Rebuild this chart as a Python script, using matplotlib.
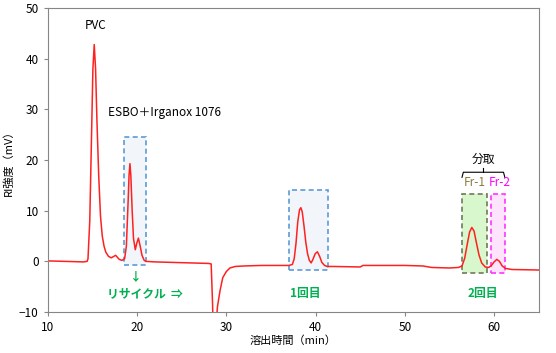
import numpy as np
import matplotlib.pyplot as plt
from matplotlib.patches import Rectangle

plt.rcParams['font.family'] = ['Noto Sans CJK JP', 'DejaVu Sans']

# chromatogram: elution time (min) vs RI signal (mV)
time = [10, 12, 14, 14.4, 14.5, 14.7, 14.9, 15.05, 15.2, 15.35, 15.5, 15.7, 15.9,
        16.1, 16.3, 16.5, 16.8, 17.1, 17.4, 17.6, 17.8, 18.0, 18.3, 18.6, 18.8,
        19.0, 19.1, 19.2, 19.3, 19.45, 19.6, 19.8, 19.95, 20.15, 20.35, 20.55,
        20.8, 21.0, 22, 24, 26, 28, 28.3, 28.45, 28.55, 28.8, 29.0, 29.3, 29.6,
        30.0, 30.4, 31, 32, 34, 36, 37, 37.4, 37.6, 37.8, 38.0, 38.2, 38.35,
        38.5, 38.7, 38.9, 39.1, 39.3, 39.5, 39.7, 39.95, 40.2, 40.45, 40.7,
        41.0, 41.3, 42, 45, 45.3, 50, 52, 53, 55, 56, 56.4, 56.7, 57.0, 57.25,
        57.5, 57.75, 58.0, 58.3, 58.6, 59.0, 59.4, 59.7, 60.0, 60.3, 60.6,
        60.9, 61.3, 62, 65]
signal = [0.1, 0.0, -0.1, 0.0, 0.5, 8, 25, 38, 42.8, 38, 28, 17, 9,
          5, 3, 1.8, 1.0, 0.7, 1.0, 1.2, 0.8, 0.4, 0.2, 0.5, 3,
          12, 17, 19.3, 17, 10, 4.5, 2.3, 3.5, 4.6, 3, 1.2,
          0.2, 0.0, -0.1, -0.2, -0.3, -0.4, -0.5, -8, -15, -14, -9, -5.7, -3.2,
          -2.0, -1.3, -1.0, -0.9, -0.8, -0.8, -0.8, -0.6, 0.5, 3.5, 7.8, 10.2, 10.6,
          9.8, 7.0, 3.8, 1.5, 0.2, -0.3, 0.4, 1.5, 1.9, 1.0, -0.2,
          -0.8, -1.0, -1.0, -1.1, -0.8, -0.8, -0.9, -1.2, -1.3, -1.2, -0.9, 0.6, 3.5, 5.8,
          6.7, 6.0, 3.8, 1.3, -0.3, -1.1, -1.2, -0.8, -0.1, 0.4, 0.0,
          -0.9, -1.4, -1.6, -1.7]

# highlighted windows: (x0, x1, y0, y1)
recycle_box = (18.5, 21.0, -0.8, 24.5)
run1_box = (37.0, 41.35, -1.6, 14.0)
fr1_box = (56.4, 59.2, -2.2, 13.4)
fr2_box = (59.7, 61.2, -2.2, 13.4)

fig, ax = plt.subplots(figsize=(5.56, 3.53), dpi=100)
fig.subplots_adjust(left=0.086, right=0.969, top=0.977, bottom=0.116)

box_styles = [
    (recycle_box, '#f2f6fa', '#5b9bd5'),
    (run1_box, '#f2f6fa', '#5b9bd5'),
    (fr1_box, '#d9f7cc', '#6f7a5a'),
    (fr2_box, '#fde3fb', '#ff33ff'),
]
for (x0, x1, y0, y1), fc, ec in box_styles:
    ax.add_patch(Rectangle((x0, y0), x1 - x0, y1 - y0, facecolor=fc,
                           edgecolor=ec, linestyle=(0, (3, 2)), linewidth=1.2,
                           zorder=1))

ax.plot(time, signal, color='#ff2020', linewidth=1.1, zorder=2)

ax.set_xlim(10, 65)
ax.set_ylim(-10, 50)
ax.set_xticks([10, 20, 30, 40, 50, 60])
ax.set_yticks([-10, 0, 10, 20, 30, 40, 50])
ax.set_yticklabels(['\u221210', '0', '10', '20', '30', '40', '50'])
for s in ax.spines.values():
    s.set_color('#868686')
ax.tick_params(labelsize=8.5, color='#868686', length=3)
ax.set_xlabel('溶出時間（min）', fontsize=8, labelpad=1)
ax.set_ylabel('RI強度（mV）', fontsize=8, labelpad=4)

green = '#00b050'
ax.text(15.3, 45.3, 'PVC', fontsize=8.5, ha='center', va='bottom')
ax.text(16.7, 28.2, 'ESBO＋Irganox 1076', fontsize=8.5, ha='left', va='bottom')
ax.text(19.8, -3.0, '↓', fontsize=8.5, color=green, ha='center', va='center',
        fontweight='bold')
ax.text(16.6, -6.3, 'リサイクル  ⇒', fontsize=8.5, color=green, ha='left',
        va='center', fontweight='bold')
ax.text(38.8, -6.3, '1回目', fontsize=8.5, color=green, ha='center',
        va='center', fontweight='bold')
ax.text(58.7, -6.3, '2回目', fontsize=8.5, color=green, ha='center',
        va='center', fontweight='bold')

# brace over the two fractions
bl, br = fr1_box[0], fr2_box[1]
bm = (bl + br) / 2
ax.plot([bl, bl + 0.15, br - 0.15, br], [16.6, 17.6, 17.6, 16.6],
        color='black', linewidth=0.8)
ax.plot([bm, bm], [17.6, 18.4], color='black', linewidth=0.8)
ax.text(bm, 18.9, '分取', fontsize=8.5, ha='center', va='bottom')
ax.text(57.8, 15.5, 'Fr-1', fontsize=8.5, color='#8c7a3c', ha='center',
        va='center')
ax.text(60.6, 15.5, 'Fr-2', fontsize=8.5, color='#ff00ff', ha='center',
        va='center')

fig.savefig('out.png', dpi=100)
